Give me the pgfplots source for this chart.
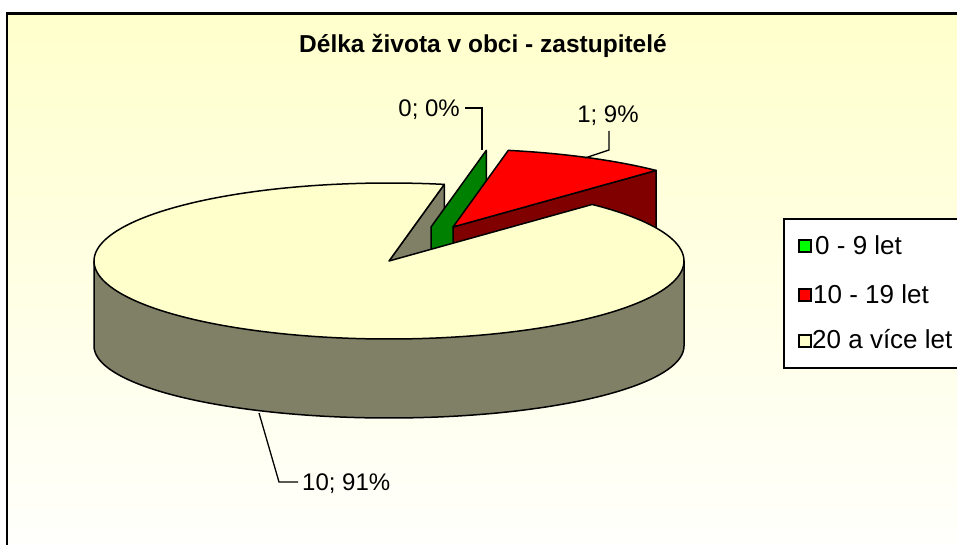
\documentclass[border=0pt]{standalone}
\usepackage{pgfplots}
\pgfplotsset{compat=1.18}
\usepackage{fontspec}
\setmainfont{Liberation Sans}
\definecolor{beige}{RGB}{255,255,204}
\definecolor{beigeside}{RGB}{128,128,102}
\definecolor{lgreen}{RGB}{0,255,0}
\definecolor{greenwall}{RGB}{0,128,0}
\definecolor{redtop}{RGB}{255,0,0}
\definecolor{redwall}{RGB}{128,0,0}
\definecolor{bgtop}{RGB}{255,255,204}
\definecolor{bgbot}{RGB}{255,255,252}

% data: 0 - 9 let, 10 - 19 let, 20 a vice let
\def\vA{0}\def\vB{1}\def\vC{10}
\pgfmathsetmacro\tot{\vA+\vB+\vC}
\def\startA{79.2}
\pgfmathsetmacro\aEnd{\startA-360*\vA/\tot}
\pgfmathsetmacro\bEnd{\aEnd-360*\vB/\tot}
\pgfmathsetmacro\topEnd{\bEnd+360}
% geometry (pixels)
\def\cx{389}\def\cy{261}\def\Rx{295}\def\ry{78}\def\dep{85}\def\rb{72}
\pgfmathsetmacro\cyb{\cy+\dep}
\pgfmathsetmacro\cyD{\cy+\dep}
% beige wall at start angle
\pgfmathsetmacro\bx{\cx+\Rx*cos(\aEnd)}
\pgfmathsetmacro\by{\cy-\ry*sin(\aEnd)}
\pgfmathsetmacro\byD{\by+\dep}
% green (exploded)
\def\gdx{42}\def\gdy{-34}
\pgfmathsetmacro\gax{\cx+\gdx}
\pgfmathsetmacro\gay{\cy+\gdy}
\pgfmathsetmacro\gayD{\gay+\dep}
\pgfmathsetmacro\grx{\bx+\gdx}
\pgfmathsetmacro\gry{\by+\gdy}
\pgfmathsetmacro\gryD{\gry+\dep}
% red (exploded)
\def\rdx{64}\def\rdy{-34}
\pgfmathsetmacro\rax{\cx+\rdx}
\pgfmathsetmacro\ray{\cy+\rdy}
\pgfmathsetmacro\rayD{\ray+\dep}
\pgfmathsetmacro\rrx{\cx+\Rx*cos(\bEnd)+\rdx}
\pgfmathsetmacro\rry{\cy-\ry*sin(\bEnd)+\rdy}
\pgfmathsetmacro\rryD{\rry+\dep}
\pgfmathsetmacro\xl{\cx-\Rx}
\pgfmathsetmacro\xr{\cx+\Rx}

\begin{document}
\begin{tikzpicture}
\begin{axis}[name=ax, scale only axis, width=957pt, height=545pt,
  xmin=0, xmax=957, ymin=0, ymax=545, y dir=reverse, hide axis,
  enlargelimits=false, clip=true]
% background
\addplot[draw=none, fill=white] coordinates {(0,0) (957,0) (957,545) (0,545)} -- cycle;
\fill[top color=bgtop, bottom color=bgbot] (axis cs:7,13.5) rectangle (axis cs:957,545);
\draw[line width=2.2pt, black] (axis cs:7,560) -- (axis cs:7,13.5) -- (axis cs:975,13.5);
% beige wall (grey)
\addplot[draw=black, fill=beigeside, line width=1.5pt, line join=round]
  coordinates {(\cx,\cy) (\bx,\by) (\bx,\byD) (\cx,\cyD)} -- cycle;
% green wall (zero slice)
\addplot[draw=black, fill=greenwall, line width=1.5pt, line join=round]
  coordinates {(\gax,\gay) (\grx,\gry) (\grx,\gryD) (\gax,\gayD)} -- cycle;
% red wall
\addplot[draw=black, fill=redwall, line width=1.5pt, line join=round]
  coordinates {(\rax,\ray) (\rrx,\rry) (\rrx,\rryD) (\rax,\rayD)} -- cycle;
% red top
\addplot[draw=black, fill=redtop, line width=1.5pt, line join=round, domain=\bEnd:\aEnd, samples=40, variable=\t]
  ({\cx+\Rx*cos(\t)+\rdx}, {\cy-\ry*sin(\t)+\rdy}) -- (axis cs:\rax,\ray) -- cycle;
% beige side
\addplot[draw=black, fill=beigeside, line width=1.5pt, line join=round, domain=180:360, samples=150, variable=\t]
  ({\cx+\Rx*cos(\t)}, {\cyb-\rb*sin(\t)}) -- (axis cs:\xr,\cy) -- (axis cs:\xl,\cy) -- cycle;
% beige top
\addplot[draw=black, fill=beige, line width=1.5pt, line join=round, domain=\aEnd:\topEnd, samples=240, variable=\t]
  ({\cx+\Rx*cos(\t)}, {\cy-\ry*sin(\t)}) -- (axis cs:\cx,\cy) -- cycle;
% leader lines
\addplot[black, line width=1.3pt] coordinates {(465,108) (482,108) (482,150)};
\addplot[black, line width=1.3pt] coordinates {(609,131) (609,150) (585,158)};
\addplot[black, line width=1.3pt] coordinates {(298,482) (279,482) (259,413)};
% labels
\node[anchor=base east, font=\fontsize{24}{28}\selectfont, inner sep=0pt] at (axis cs:460,117) {0; 0\%};
\node[anchor=base, font=\fontsize{24}{28}\selectfont, inner sep=0pt] at (axis cs:608,123) {1; 9\%};
\node[anchor=base west, font=\fontsize{24}{28}\selectfont, inner sep=0pt] at (axis cs:302,490) {10; 91\%};
% legend
\draw[line width=1.6pt, fill=white] (axis cs:784,219) rectangle (axis cs:990,368);
\draw[line width=1.3pt, fill=lgreen] (axis cs:799,240) rectangle (axis cs:811,252);
\draw[line width=1.3pt, fill=redtop] (axis cs:799,289) rectangle (axis cs:811,301);
\draw[line width=1.3pt, fill=beige] (axis cs:799,335) rectangle (axis cs:811,347);
\node[anchor=base west, font=\fontsize{26}{30}\selectfont, inner sep=0pt] at (axis cs:815,254) {0 - 9 let};
\node[anchor=base west, font=\fontsize{26}{30}\selectfont, inner sep=0pt] at (axis cs:813,303) {10 - 19 let};
\node[anchor=base west, font=\fontsize{26}{30}\selectfont, inner sep=0pt] at (axis cs:812,348) {20 a více let};
% title
\node[anchor=base, font=\bfseries\fontsize{24.5}{29}\selectfont, inner sep=0pt] at (axis cs:483,53) {Délka života v obci - zastupitelé};
\end{axis}
\pgfresetboundingbox
\path[use as bounding box] (ax.south west) rectangle (ax.north east);
\end{tikzpicture}
\end{document}
